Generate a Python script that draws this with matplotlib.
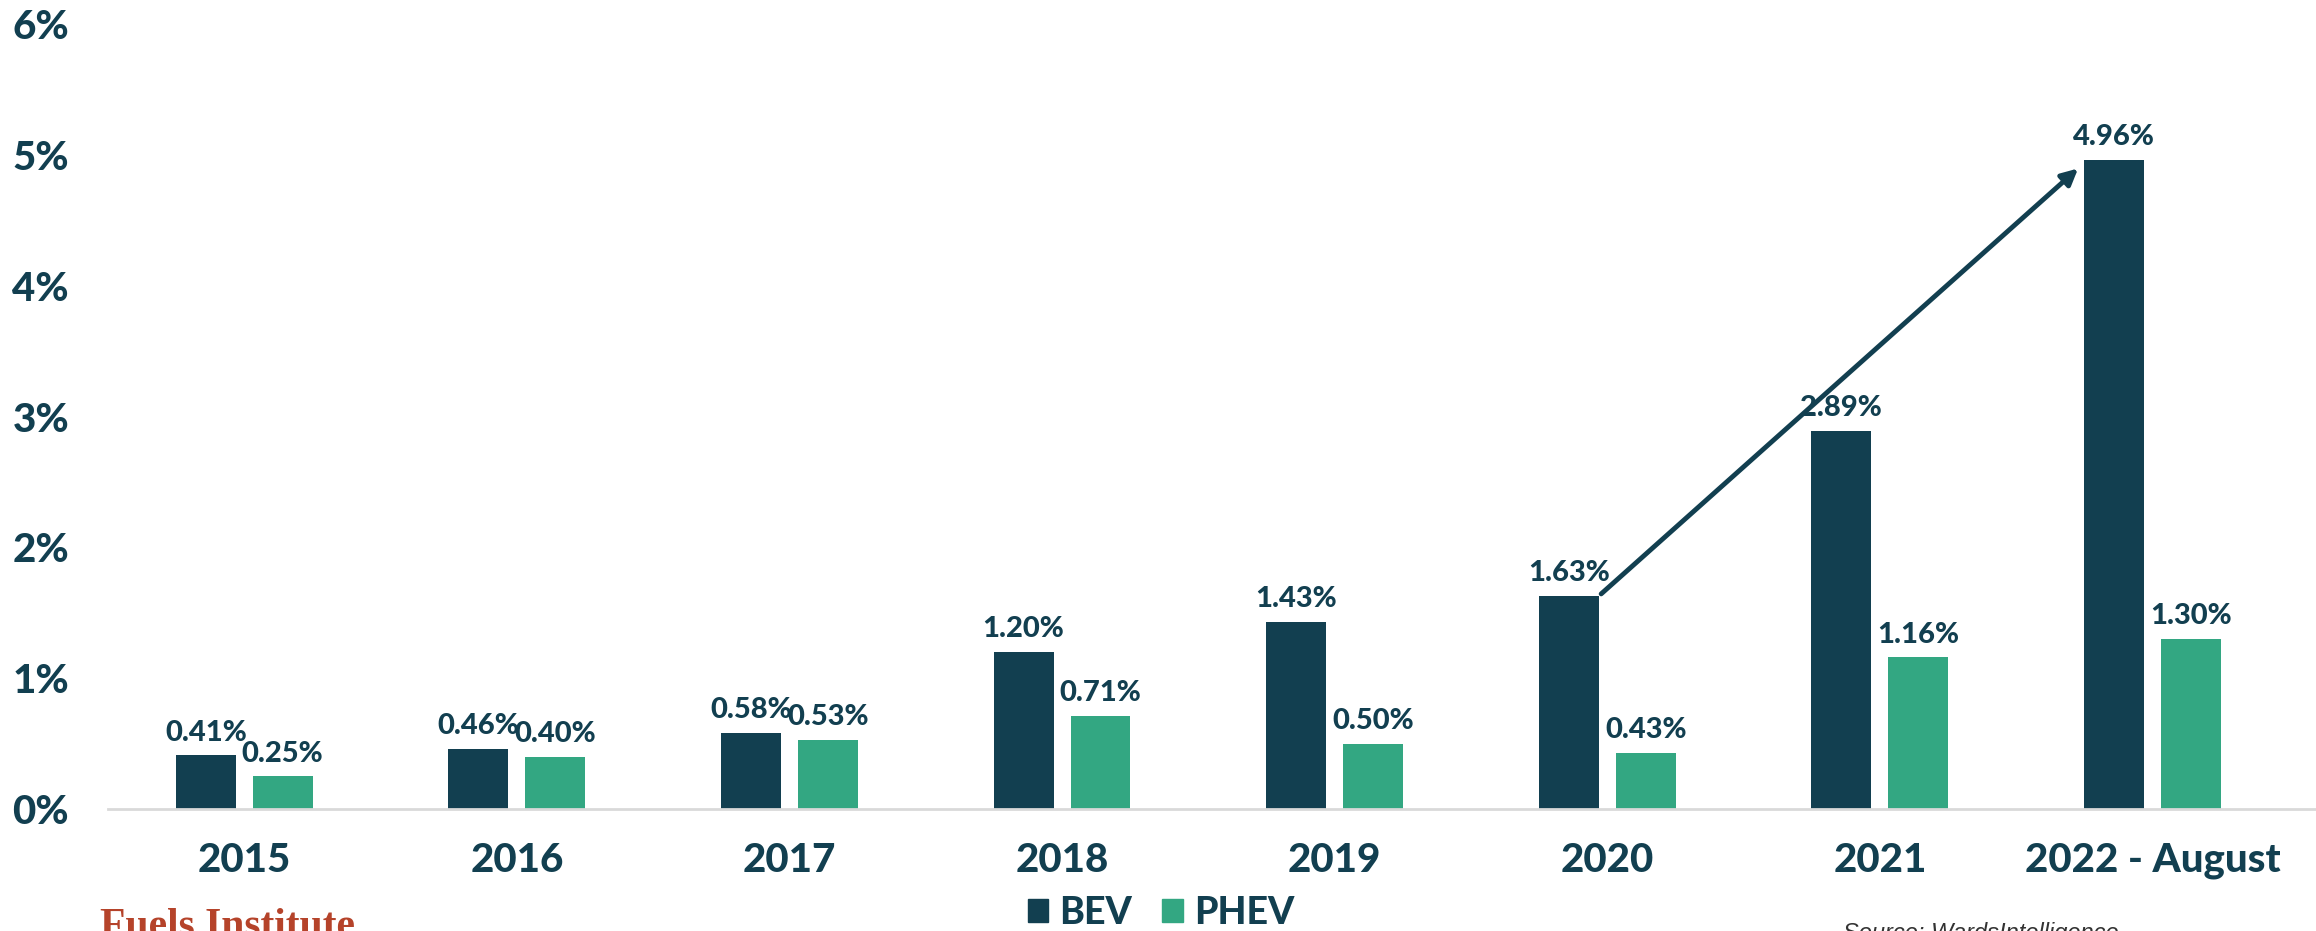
import matplotlib
matplotlib.use("Agg")
from matplotlib import pyplot as plt
from matplotlib.patches import Patch
import numpy as np

years = ["2015", "2016", "2017", "2018", "2019", "2020", "2021", "2022 - August"]
bev = [0.41, 0.46, 0.58, 1.20, 1.43, 1.63, 2.89, 4.96]
phev = [0.25, 0.40, 0.53, 0.71, 0.50, 0.43, 1.16, 1.30]
yticks = [0, 1, 2, 3, 4, 5, 6]

navy = "#123F50"
green = "#33A782"
font = "Lato"
wt = 900

fig = plt.figure(figsize=(23.16, 9.31), dpi=100)
ax = fig.add_axes([108 / 2316, 1 - 809 / 931, 1 - 108 / 2316, (809 - 24) / 931])

x = np.arange(len(years))
w = 0.22
off = 0.141
ax.bar(x - off, bev, w, color=navy)
ax.bar(x + off, phev, w, color=green)

for xi, v in zip(x, bev):
    ax.annotate(f"{v:.2f}%", (xi - off, v), xytext=(0, 7), textcoords="offset points",
                ha="center", va="bottom", fontsize=21, fontweight=wt, color=navy, family=font)
for xi, v in zip(x, phev):
    ax.annotate(f"{v:.2f}%", (xi + off, v), xytext=(0, 7), textcoords="offset points",
                ha="center", va="bottom", fontsize=21, fontweight=wt, color=navy, family=font)

# trend arrow from 2020 to 2022
ax.annotate("", xy=(6.735, 4.91), xytext=(4.97, 1.63),
            arrowprops=dict(arrowstyle="-|>", color=navy, lw=3.5, mutation_scale=24))

ax.set_xlim(-0.5, 7.6)
ax.set_ylim(0, 6)
ax.set_xticks(x)
ax.set_xticklabels(years, fontsize=29, fontweight=wt, color=navy, family=font)
ax.set_yticks(yticks)
ax.set_yticklabels([f"{t}%" for t in yticks], fontsize=29, fontweight=wt, color=navy, family=font)
ax.tick_params(axis="both", length=0)
ax.tick_params(axis="x", pad=24)
ax.tick_params(axis="y", pad=28)
for s in ["top", "right", "left"]:
    ax.spines[s].set_visible(False)
ax.spines["bottom"].set_color("#D9D9D9")
ax.spines["bottom"].set_linewidth(2)

handles = [Patch(color=navy, label="BEV"), Patch(color=green, label="PHEV")]
fig.legend(handles=handles, loc="center", bbox_to_anchor=(1161 / 2316, 1 - 913 / 931), ncol=2,
           frameon=False, handlelength=0.55, handleheight=0.55, handletextpad=0.3, columnspacing=0.8,
           prop=dict(family=font, weight=wt, size=27), labelcolor=navy)

fig.text(100 / 2316, 1 - 908 / 931, "Fuels Institute", ha="left", va="top", fontsize=30,
         fontweight="bold", color="#B5432A", family="Liberation Serif")
fig.text(1843 / 2316, 1 - 922 / 931, "Source: WardsIntelligence", ha="left", va="top",
         fontsize=17, style="italic", color="#333333", family="Liberation Sans")

fig.savefig("out.png", dpi=100)
